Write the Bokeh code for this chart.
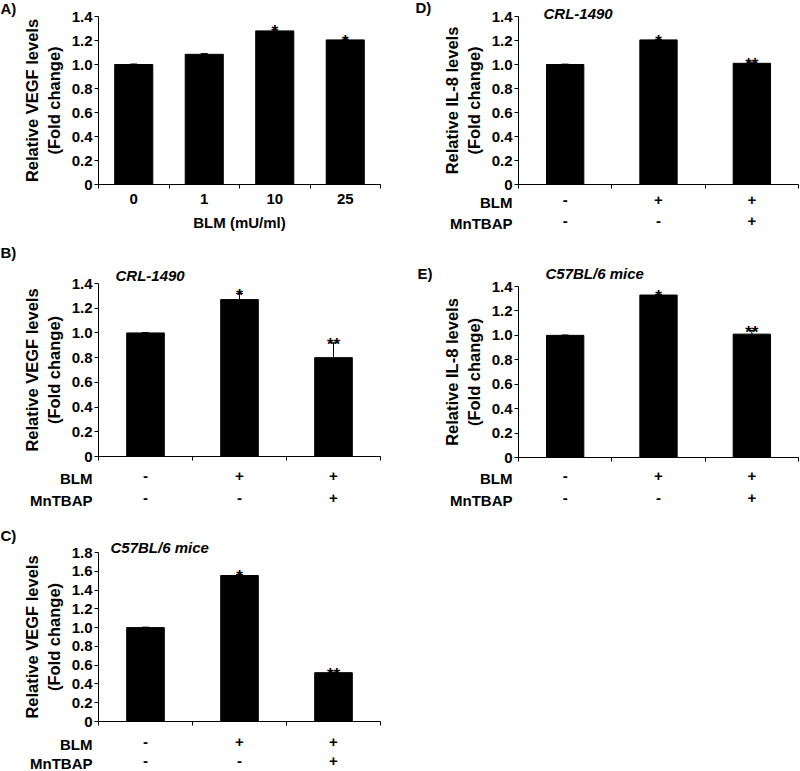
from bokeh.plotting import figure
from bokeh.models import (Range1d, LinearAxis, FixedTicker, Whisker, TeeHead,
                          ColumnDataSource, NumeralTickFormatter, Label)
from bokeh.layouts import row, column
from bokeh.embed import file_html
from bokeh.resources import INLINE
from bokeh.core.properties import value

FONT = "Liberation Sans"

# ---------------- data ----------------
# Panel A: VEGF vs BLM dose
a_cats = ["0", "1", "10", "25"]
a_vals = [1.00, 1.085, 1.28, 1.205]
a_errs = [0.004, 0.006, 0.010, 0.006]
a_sig = ["", "", "*", "*"]

# Panels B-E: treatment groups
grp_cats = ["control", "BLM", "BLM+MnTBAP"]
row_names = ["BLM", "MnTBAP"]
blm_row = ["-", "+", "+"]
mntbap_row = ["-", "-", "+"]

b_vals = [1.00, 1.27, 0.80]
b_errs = [0.003, 0.05, 0.12]
b_sig = ["", "*", "**"]

c_vals = [1.00, 1.555, 0.52]
c_errs = [0.005, 0.010, 0.006]
c_sig = ["", "*", "**"]

d_vals = [1.00, 1.205, 1.01]
d_errs = [0.003, 0.004, 0.010]
d_sig = ["", "*", "**"]

e_vals = [1.00, 1.33, 1.01]
e_errs = [0.003, 0.005, 0.030]
e_sig = ["", "*", "**"]


def style_text_axis(ax, standoff):
    ax.axis_line_color = None
    ax.major_tick_line_color = None
    ax.minor_tick_line_color = None
    ax.major_tick_out = 0
    ax.major_tick_in = 0
    ax.major_label_standoff = standoff
    ax.major_label_text_font = FONT
    ax.major_label_text_font_style = "bold"
    ax.major_label_text_font_size = "15px"
    ax.major_label_text_color = "black"
    return ax


def make_panel(cats, vals, errs, sig, ymax, ylabel, letter, title,
               W, H, ax0, fw, top, base, bar_w, letter_pos, title_pos=None,
               rows=None, row_dy=(22, 44), xlabel=None, tick_dy=17):
    """Layout given in figure pixels: y axis at x=ax0, categories span fw px,
    y=ymax at pixel row `top`, y=0 at pixel row `base`."""
    n = len(cats)
    pxu = fw / n                    # px per category slot
    pyu = (base - top) / ymax       # px per y unit

    def dx(px):
        return (px - ax0) / pxu

    def dy(py):
        return (base - py) / pyu

    centers = [i + 0.5 for i in range(n)]
    src = ColumnDataSource(dict(x=centers, cat=cats, val=vals,
                                up=[v + e for v, e in zip(vals, errs)], sig=sig))
    p = figure(width=W, height=H,
               x_range=Range1d(dx(0), dx(W)), y_range=Range1d(dy(H), dy(0)),
               x_axis_location=None, y_axis_location=None,
               output_backend="svg", toolbar_location=None,
               min_border_left=0, min_border_right=0,
               min_border_top=0, min_border_bottom=0)
    p.outline_line_color = None
    p.background_fill_color = "white"
    p.title.visible = False
    for g in p.grid:
        g.visible = False

    # y axis, pinned at x = 0
    yticks = [round(0.2 * i, 1) for i in range(int(round(ymax / 0.2)) + 1)]
    yax = LinearAxis(ticker=FixedTicker(ticks=yticks),
                     formatter=NumeralTickFormatter(format="0.0"),
                     major_label_overrides={0: "0"},
                     axis_label=ylabel, fixed_location=0, bounds=(0, ymax))
    yax.major_tick_out = 4
    yax.major_tick_in = 0
    yax.minor_tick_line_color = None
    yax.axis_line_color = "black"
    yax.major_tick_line_color = "black"
    yax.major_label_text_font = FONT
    yax.major_label_text_font_style = "bold"
    yax.major_label_text_font_size = "15px"
    yax.major_label_text_color = "black"
    yax.major_label_standoff = 2
    yax.axis_label_text_font = FONT
    yax.axis_label_text_font_style = "bold"
    yax.axis_label_text_font_size = "16.5px"
    yax.axis_label_text_color = "black"
    yax.axis_label_standoff = 6
    p.add_layout(yax, "left")

    # x axis line at y = 0 with ticks at category boundaries
    bax = LinearAxis(ticker=FixedTicker(ticks=list(range(n + 1))),
                     fixed_location=0, bounds=(0, n))
    bax.major_tick_out = 4
    bax.major_tick_in = 0
    bax.minor_tick_line_color = None
    bax.major_label_text_font_size = "0px"
    bax.major_label_text_color = None
    bax.axis_line_color = "black"
    bax.major_tick_line_color = "black"
    p.add_layout(bax, "below")

    def add_label(px, py, text, align="left", style="bold"):
        p.add_layout(Label(x=dx(px), y=dy(py), text=text, text_font=FONT,
                           text_font_style=style, text_font_size="15px",
                           text_color="black", text_align=align,
                           text_baseline="middle"))

    if rows is None:
        ax = style_text_axis(LinearAxis(ticker=FixedTicker(ticks=centers),
                                        major_label_overrides=dict(zip(centers, cats)),
                                        fixed_location=0, bounds=(0, n)),
                             tick_dy - 8)
        ax.axis_label = xlabel
        ax.axis_label_text_font = FONT
        ax.axis_label_text_font_style = "bold"
        ax.axis_label_text_font_size = "15px"
        ax.axis_label_text_color = "black"
        ax.axis_label_standoff = 7
        p.add_layout(ax, "below")
    else:
        for name, labels, d in zip(row_names, rows, row_dy):
            ax = style_text_axis(LinearAxis(ticker=FixedTicker(ticks=centers),
                                            major_label_overrides=dict(zip(centers, labels)),
                                            fixed_location=0, bounds=(0, n)),
                                 d - 8)
            p.add_layout(ax, "below")
            add_label(ax0 - 6, base + d, name, align="right")

    # bars, error bars, significance marks
    p.vbar(x="x", top="val", width=bar_w, source=src,
           fill_color="black", line_color="black")
    p.add_layout(Whisker(base="x", lower="val", upper="up", source=src,
                         line_color="black", line_width=1,
                         upper_head=TeeHead(size=7, line_color="black"),
                         lower_head=None))
    p.text(x="x", y="up", text="sig", source=src, text_align="center",
           text_baseline="alphabetic", y_offset=2,
           text_font=value(FONT), text_font_style="bold",
           text_font_size="17px", text_color="black")

    # panel letter and title
    add_label(letter_pos[0], letter_pos[1], letter)
    if title:
        add_label(title_pos[0], title_pos[1], title, style="bold italic")
    return p


rows = [blm_row, mntbap_row]

pa = make_panel(a_cats, a_vals, a_errs, a_sig, 1.4,
                "Relative VEGF levels\n(Fold change)", "A)", None,
                400, 240, 98, 282, 16, 184, 0.54, (0, 8),
                xlabel="BLM (mU/ml)", tick_dy=17)
pb = make_panel(grp_cats, b_vals, b_errs, b_sig, 1.4,
                "Relative VEGF levels\n(Fold change)", "B)", "CRL-1490",
                400, 275, 98, 282, 43, 216, 0.40, (0, 12), (115, 35),
                rows=rows, row_dy=(22, 44))
pc = make_panel(grp_cats, c_vals, c_errs, c_sig, 1.8,
                "Relative VEGF levels\n(Fold change)", "C)", "C57BL/6 mice",
                400, 256, 98, 282, 37, 206, 0.40, (0, 20), (110, 32),
                rows=rows, row_dy=(23, 42))
pd = make_panel(grp_cats, d_vals, d_errs, d_sig, 1.4,
                "Relative IL-8 levels\n(Fold change)", "D)", "CRL-1490",
                400, 260, 118, 280, 16, 184, 0.40, (15, 7), (143, 13),
                rows=rows, row_dy=(18, 39))
pe = make_panel(grp_cats, e_vals, e_errs, e_sig, 1.4,
                "Relative IL-8 levels\n(Fold change)", "E)", "C57BL/6 mice",
                400, 275, 118, 280, 26, 197, 0.40, (17, 13), (145, 13),
                rows=rows, row_dy=(21, 43))

layout = row(column(pa, pb, pc, spacing=0), column(pd, pe, spacing=0), spacing=0)

open("out.html", "w").write(file_html(layout, INLINE))
